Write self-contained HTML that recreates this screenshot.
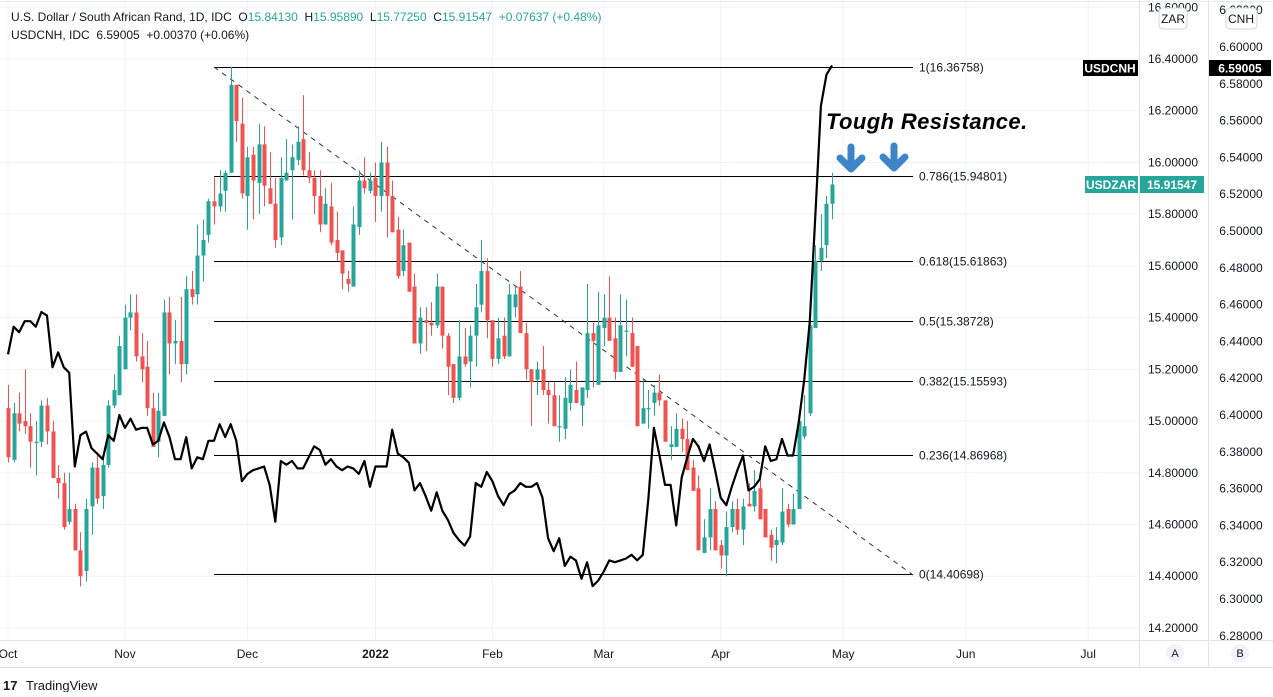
<!DOCTYPE html>
<html><head><meta charset="utf-8">
<style>
body{margin:0;background:#fff;width:1273px;height:692px;overflow:hidden;font-family:"Liberation Sans","DejaVu Sans",sans-serif;}
svg text{font-family:"Liberation Sans","DejaVu Sans",sans-serif;}
</style></head>
<body>
<svg id="chart" width="1273" height="692" viewBox="0 0 1273 692" xmlns="http://www.w3.org/2000/svg">
  <g id="grid"></g>
  <g id="fib"></g>
  <line x1="214" y1="67" x2="913" y2="575" stroke="#333" stroke-width="1" stroke-dasharray="5,5"/>
  <g id="candles"></g>
  <path id="cnhline" fill="none" stroke="#000" stroke-width="2.2" stroke-linejoin="round"/>
  <text x="826" y="129" font-size="22" font-weight="bold" font-style="italic" fill="#000" letter-spacing="0.4">Tough Resistance.</text>
  <g stroke="#3d85c6" stroke-width="7" stroke-linecap="round" stroke-linejoin="round" fill="none">
    <path d="M851 147 V168 M840 158 L851 169 L862 158"/>
  </g>
  <g stroke="#3d85c6" stroke-width="7" stroke-linecap="round" stroke-linejoin="round" fill="none">
    <path d="M894 146 V167 M883 157 L894 168 L905 157"/>
  </g>
  <line x1="1139.5" y1="0" x2="1139.5" y2="668" stroke="#e0e3eb"/>
  <line x1="1208.5" y1="0" x2="1208.5" y2="668" stroke="#e0e3eb"/>
  <line x1="0" y1="640.5" x2="1273" y2="640.5" stroke="#e0e3eb"/>
  <line x1="0" y1="667.5" x2="1273" y2="667.5" stroke="#e0e3eb"/>
  <line x1="0" y1="1.5" x2="1273" y2="1.5" stroke="#e8eaf0"/>
  <g id="zaraxis"></g>
  <g id="cnhaxis"></g>
  <g id="timeaxis"></g>
  <rect x="1159" y="8" width="28" height="21" rx="4" fill="#fff" stroke="#d1d4dc"/>
  <text x="1173" y="23" font-size="12" text-anchor="middle" fill="#131722">ZAR</text>
  <rect x="1226" y="8" width="31" height="21" rx="4" fill="#fff" stroke="#d1d4dc"/>
  <text x="1241" y="23" font-size="12" text-anchor="middle" fill="#131722">CNH</text>
  <rect x="1083" y="60" width="55" height="16" fill="#000"/>
  <text x="1110" y="72.5" font-size="12" font-weight="bold" text-anchor="middle" fill="#fff">USDCNH</text>
  <rect x="1209" y="60" width="62" height="16" fill="#000"/>
  <text x="1240" y="72.5" font-size="12" font-weight="bold" text-anchor="middle" fill="#fff">6.59005</text>
  <rect x="1085" y="176" width="53" height="17" fill="#26a69a"/>
  <text x="1111" y="189" font-size="12" font-weight="bold" text-anchor="middle" fill="#fff">USDZAR</text>
  <rect x="1140" y="176" width="64" height="17" fill="#26a69a"/>
  <text x="1172" y="189" font-size="12" font-weight="bold" text-anchor="middle" fill="#fff">15.91547</text>
  <text x="11" y="21" font-size="12" fill="#131722" xml:space="preserve">U.S. Dollar / South African Rand, 1D, IDC  O<tspan fill="#26a69a">15.84130</tspan>  H<tspan fill="#26a69a">15.95890</tspan>  L<tspan fill="#26a69a">15.77250</tspan>  C<tspan fill="#26a69a">15.91547  +0.07637 (+0.48%)</tspan></text>
  <text x="11" y="39" font-size="12" fill="#131722" xml:space="preserve">USDCNH, IDC  6.59005  +0.00370 (+0.06%)</text>
  <circle cx="1175" cy="653" r="9" fill="#f0f3fa"/>
  <text x="1175" y="657" font-size="11" text-anchor="middle" fill="#131722">A</text>
  <circle cx="1240" cy="653" r="9" fill="#f0f3fa"/>
  <text x="1240" y="657" font-size="11" text-anchor="middle" fill="#131722">B</text>
  <g>
    <text x="3" y="690" font-size="13" font-weight="bold" fill="#131722">17</text>
    <text x="26" y="690" font-size="13" fill="#131722">TradingView</text>
  </g>
</svg>
<script>
const zarTicks=[16.6,16.4,16.2,16.0,15.8,15.6,15.4,15.2,15.0,14.8,14.6,14.4,14.2];
const cnhTicks=[6.62,6.60,6.58,6.56,6.54,6.52,6.50,6.48,6.46,6.44,6.42,6.40,6.38,6.36,6.34,6.32,6.30,6.28];
const monthLabels=["Oct","Nov","Dec","2022","Feb","Mar","Apr","May","Jun","Jul"];
const monthBarIdx=[0,21,43,66,87,107,128,150,172,194];
const fibLevels=[1,0.786,0.618,0.5,0.382,0.236,0];
const fibPrices=[16.36758,15.94801,15.61863,15.38728,15.15593,14.86968,14.40698];
const opens=[15.05,14.85,15.03,15.00,14.98,14.92,14.92,15.06,14.96,14.78,14.76,14.61,14.66,14.50,14.42,14.67,14.82,14.71,14.83,15.06,15.10,15.20,15.40,15.42,15.25,15.21,15.05,14.92,15.02,15.42,15.30,15.31,15.22,15.51,15.49,15.64,15.72,15.85,15.83,15.89,15.96,16.30,16.15,15.87,16.03,15.92,16.07,15.90,15.84,15.71,15.93,15.97,16.01,16.09,15.97,15.94,15.87,15.76,15.83,15.70,15.66,15.55,15.52,15.75,15.93,15.89,15.94,15.87,16.00,15.87,15.74,15.58,15.69,15.52,15.30,15.39,15.38,15.37,15.52,15.33,15.22,15.09,15.25,15.23,15.33,15.45,15.58,15.39,15.24,15.33,15.25,15.44,15.52,15.34,15.20,15.16,15.20,15.12,15.10,14.98,14.97,15.07,15.12,15.06,15.12,15.34,15.14,15.36,15.40,15.32,15.19,15.35,15.34,15.29,14.99,15.05,15.07,15.11,15.08,14.90,14.90,14.97,14.93,14.82,14.74,14.49,14.55,14.66,14.52,14.48,14.59,14.66,14.58,14.68,14.67,14.74,14.66,14.56,14.52,14.53,14.66,14.60,14.66,14.94,15.03,15.36,15.62,15.68,15.84];
const highs=[15.14,15.07,15.11,15.20,15.03,15.00,15.08,15.09,15.00,14.83,14.80,14.80,14.68,14.57,14.70,14.84,14.88,14.86,15.08,15.18,15.33,15.45,15.49,15.49,15.34,15.31,15.11,15.11,15.47,15.48,15.39,15.48,15.56,15.58,15.76,15.78,15.86,15.94,15.97,15.97,16.37,16.30,16.25,16.06,16.06,16.15,16.14,16.04,15.94,16.02,16.09,16.07,16.14,16.26,16.04,15.97,15.97,15.90,15.92,15.81,15.66,15.58,15.83,15.97,16.02,15.96,16.00,16.08,16.06,15.93,15.79,15.74,15.69,15.57,15.44,15.44,15.46,15.57,15.52,15.34,15.22,15.39,15.36,15.37,15.53,15.70,15.63,15.39,15.40,15.40,15.53,15.52,15.58,15.38,15.20,15.23,15.29,15.15,15.15,15.10,15.17,15.20,15.23,15.13,15.53,15.38,15.50,15.49,15.56,15.40,15.49,15.47,15.40,15.29,15.16,15.12,15.14,15.18,15.08,14.98,15.03,15.01,15.00,14.85,14.79,14.62,14.74,14.69,14.54,14.65,14.69,14.70,14.70,14.76,14.81,14.77,14.66,14.58,14.59,14.74,14.68,14.72,15.00,15.10,15.42,15.68,15.80,15.87,15.96];
const lows=[14.84,14.84,14.96,14.95,14.82,14.79,14.90,14.91,14.78,14.70,14.58,14.60,14.50,14.36,14.38,14.56,14.68,14.66,14.82,15.05,15.10,15.20,15.35,15.23,15.15,15.02,14.90,14.86,15.02,15.18,15.22,15.15,15.18,15.45,15.45,15.54,15.69,15.76,15.81,15.81,15.96,16.08,15.86,15.74,15.78,15.80,15.83,15.84,15.67,15.68,15.93,15.78,15.99,15.95,15.92,15.80,15.73,15.76,15.68,15.62,15.51,15.50,15.52,15.72,15.88,15.88,15.77,15.81,15.71,15.73,15.55,15.56,15.50,15.30,15.26,15.27,15.33,15.36,15.28,15.10,15.07,15.08,15.21,15.13,15.21,15.42,15.32,15.21,15.22,15.24,15.25,15.40,15.34,15.16,14.98,15.10,15.10,14.99,14.98,14.92,14.93,15.04,15.07,14.98,15.09,15.13,15.14,15.29,15.31,15.16,15.19,15.25,15.21,14.98,14.99,14.97,15.02,15.06,14.92,14.85,14.90,14.88,14.81,14.73,14.50,14.49,14.50,14.50,14.43,14.40,14.57,14.56,14.52,14.67,14.65,14.62,14.55,14.46,14.45,14.52,14.59,14.60,14.66,14.93,15.02,15.36,15.58,15.63,15.78];
const closes=[14.86,15.03,14.99,14.98,14.92,14.92,15.06,14.96,14.78,14.76,14.59,14.66,14.50,14.40,14.66,14.82,14.70,14.83,15.06,15.12,15.29,15.40,15.42,15.25,15.20,15.05,14.90,15.04,15.42,15.30,15.31,15.22,15.51,15.48,15.64,15.70,15.85,15.83,15.88,15.96,16.30,16.16,15.88,16.02,15.93,16.07,15.91,15.84,15.70,15.94,15.96,16.02,16.08,15.97,15.94,15.87,15.76,15.84,15.69,15.65,15.57,15.53,15.76,15.93,15.90,15.93,15.87,16.00,15.87,15.73,15.56,15.68,15.50,15.30,15.40,15.38,15.37,15.52,15.33,15.21,15.09,15.25,15.22,15.33,15.44,15.58,15.39,15.24,15.32,15.25,15.49,15.49,15.34,15.20,15.15,15.20,15.12,15.10,14.98,14.98,15.09,15.14,15.07,15.13,15.34,15.31,15.37,15.40,15.31,15.19,15.37,15.35,15.21,14.98,15.05,15.05,15.11,15.08,14.92,14.91,14.97,14.93,14.81,14.73,14.50,14.55,14.66,14.50,14.48,14.59,14.66,14.58,14.67,14.67,14.73,14.62,14.55,14.51,14.54,14.65,14.60,14.66,15.00,14.98,15.37,15.62,15.67,15.84,15.915];
const cnh=[6.433,6.448,6.445,6.451,6.451,6.448,6.456,6.454,6.426,6.434,6.426,6.423,6.372,6.389,6.391,6.382,6.379,6.376,6.389,6.386,6.400,6.393,6.398,6.392,6.393,6.393,6.384,6.386,6.396,6.388,6.376,6.376,6.388,6.371,6.377,6.376,6.386,6.386,6.395,6.388,6.395,6.386,6.364,6.368,6.370,6.371,6.372,6.362,6.342,6.375,6.373,6.375,6.371,6.371,6.377,6.383,6.381,6.373,6.376,6.372,6.370,6.372,6.371,6.368,6.375,6.361,6.372,6.372,6.372,6.392,6.379,6.377,6.374,6.359,6.363,6.356,6.348,6.358,6.348,6.343,6.336,6.332,6.329,6.334,6.363,6.361,6.369,6.364,6.356,6.351,6.357,6.359,6.363,6.361,6.361,6.363,6.355,6.333,6.326,6.333,6.318,6.323,6.321,6.311,6.320,6.307,6.310,6.315,6.321,6.320,6.321,6.322,6.324,6.321,6.324,6.354,6.393,6.378,6.362,6.362,6.340,6.366,6.377,6.387,6.383,6.375,6.384,6.370,6.355,6.351,6.361,6.370,6.378,6.359,6.361,6.365,6.383,6.375,6.376,6.387,6.378,6.378,6.396,6.419,6.451,6.509,6.568,6.585,6.590];

const NS="http://www.w3.org/2000/svg";
const X0=8, STEP=5.568;
function xScale(i){return X0+i*STEP;}
function yZar(p){return 59+(16.4-p)*258.6;}
function yCnh(v){return 47+(6.6-v)*1840;}
function mk(tag,attrs,parent){const e=document.createElementNS(NS,tag);for(const k in attrs)e.setAttribute(k,attrs[k]);parent.appendChild(e);return e;}

const grid=document.getElementById('grid');
zarTicks.forEach(t=>{const y=yZar(t);const l=mk('line',{x1:0,x2:1139,y1:y,y2:y,stroke:'#f0f3fa'},grid);

});
monthBarIdx.forEach(i=>{const x=xScale(i);const l=mk('line',{x1:x,x2:x,y1:0,y2:640,stroke:'#f0f3fa'},grid);

});

const za=document.getElementById('zaraxis');
zarTicks.forEach(t=>{const y=yZar(t);const tx=mk('text',{x:1173,y:y+4,'font-size':12,'text-anchor':'middle',fill:'#131722'},za);tx.textContent=t.toFixed(5);

});
const ca=document.getElementById('cnhaxis');
cnhTicks.forEach(t=>{const y=yCnh(t);const tx=mk('text',{x:1241,y:y+4,'font-size':12,'text-anchor':'middle',fill:'#131722'},ca);tx.textContent=t.toFixed(5);

});
const ta=document.getElementById('timeaxis');
monthLabels.forEach((m,k)=>{const tx=mk('text',{x:xScale(monthBarIdx[k]),y:658,'font-size':12,'text-anchor':'middle',fill:'#131722','font-weight':m==='2022'?'bold':'normal'},ta);tx.textContent=m;

});

const fib=document.getElementById('fib');
fibLevels.forEach((lv,k)=>{const y=Math.round(yZar(fibPrices[k]))+0.5;
const l=mk('line',{x1:214,x2:913,y1:y,y2:y,stroke:'#000','stroke-width':1},fib);


const tx=mk('text',{x:919,y:y+4,'font-size':12,fill:'#131722'},fib);tx.textContent=lv+'('+fibPrices[k].toFixed(5)+')';

});

const cg=document.getElementById('candles');
opens.forEach((o,i)=>{const c=closes[i];const up=c>=o;const col=up?'#26a69a':'#ef5350';const x=Math.round(xScale(i));
const g=mk('g',{},cg);


mk('line',{x1:x+0.5,x2:x+0.5,y1:yZar(highs[i]),y2:yZar(lows[i]),stroke:col,'stroke-width':1},g);
const top=yZar(Math.max(o,c)),bot=yZar(Math.min(o,c));
mk('rect',{x:x-1.5,y:top,width:4,height:Math.max(1.2,bot-top),fill:col},g);});

let d='';cnh.forEach((v,i)=>{d+=(i?'L':'M')+xScale(i).toFixed(1)+' '+yCnh(v).toFixed(1);});
document.getElementById('cnhline').setAttribute('d',d);
</script>
</body></html>
